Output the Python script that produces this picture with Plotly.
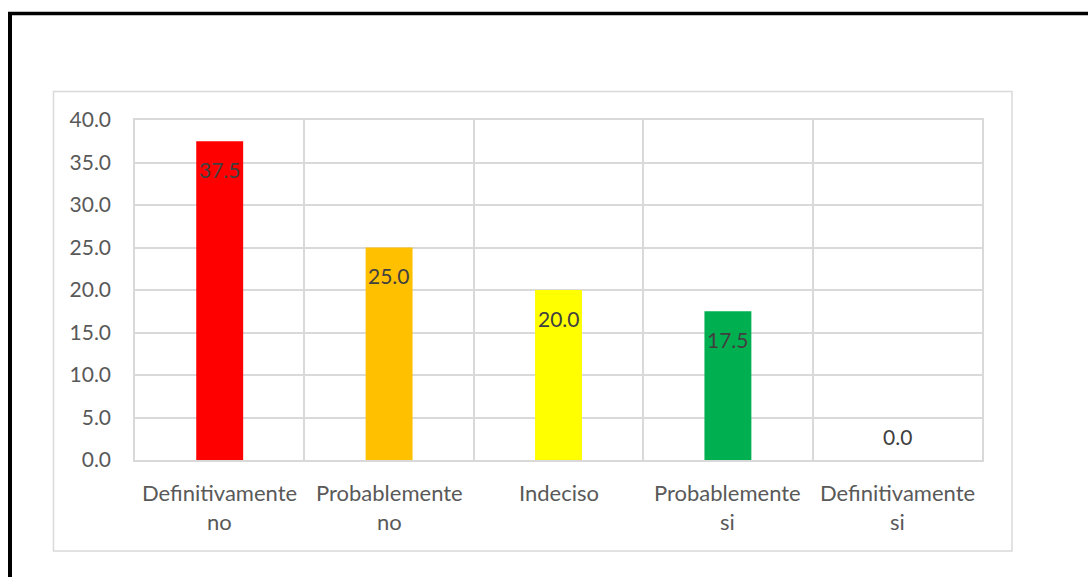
import plotly.graph_objects as go

categories = ["Definitivamente no", "Probablemente no", "Indeciso", "Probablemente si", "Definitivamente si"]
label_line1 = ["Definitivamente", "Probablemente", "Indeciso", "Probablemente", "Definitivamente"]
label_line2 = ["no", "no", "", "si", "si"]
values = [37.5, 25.0, 20.0, 17.5, 0.0]
colors = ["#FF0000", "#FFC000", "#FFFF00", "#00B050", "#00B0F0"]

W, H = 1088, 577
L, R, T, B = 135, 982, 120, 460

def px(x):
    return (x - L) / (R - L)

def py(y):
    return (B - y) / (B - T)

FONT = "Lato"
fig = go.Figure()
fig.add_trace(go.Bar(x=categories, y=values, marker=dict(color=colors, line=dict(width=0)),
                     hoverinfo="skip"))

annotations = []
for c, v in zip(categories, values):
    annotations.append(dict(x=c, y=v, xref="x", yref="y", text=f"{v:.1f}", showarrow=False,
                            yanchor="middle", yshift=(-28 if v > 0 else 24),
                            font=dict(family=FONT, size=21, color="#404040")))
for c, l1, l2 in zip(categories, label_line1, label_line2):
    annotations.append(dict(x=c, y=0, xref="x", yref="paper", text=l1, showarrow=False,
                            yanchor="middle", yshift=-32,
                            font=dict(family=FONT, size=22, color="#595959")))
    if l2:
        annotations.append(dict(x=c, y=0, xref="x", yref="paper", text=l2, showarrow=False,
                                yanchor="middle", yshift=-61,
                                font=dict(family=FONT, size=22, color="#595959")))

shapes = [
    # inner chart area border
    dict(type="rect", xref="paper", yref="paper", x0=px(53.5), x1=px(1012), y0=py(551), y1=py(91.5),
         line=dict(color="#D9D9D9", width=1.5), layer="below"),
    # outer black frame (left and top edges visible)
    dict(type="line", xref="paper", yref="paper", x0=px(10), x1=px(10), y0=py(12), y1=py(600),
         line=dict(color="black", width=4)),
    dict(type="line", xref="paper", yref="paper", x0=px(8), x1=px(1100), y0=py(13.5), y1=py(13.5),
         line=dict(color="black", width=3.5)),
]

fig.update_layout(
    width=W, height=H,
    margin=dict(l=L, r=W - R, t=T, b=H - B, pad=0),
    paper_bgcolor="white", plot_bgcolor="white",
    bargap=0.723,
    showlegend=False,
    annotations=annotations,
    shapes=shapes,
    xaxis=dict(type="category", tickson="boundaries", showgrid=True, gridcolor="#D9D9D9", gridwidth=1.5,
               showline=True, mirror=True, linecolor="#D9D9D9", linewidth=1.5,
               showticklabels=False, ticks="", zeroline=False),
    yaxis=dict(range=[0, 40], dtick=5, tickformat=".1f", showgrid=True, gridcolor="#D9D9D9", gridwidth=1.5,
               showline=True, mirror=True, linecolor="#D9D9D9", linewidth=1.5, zeroline=False,
               ticks="", ticklabelstandoff=18,
               tickfont=dict(family=FONT, size=21, color="#595959")),
)

fig.write_html("out.html")
